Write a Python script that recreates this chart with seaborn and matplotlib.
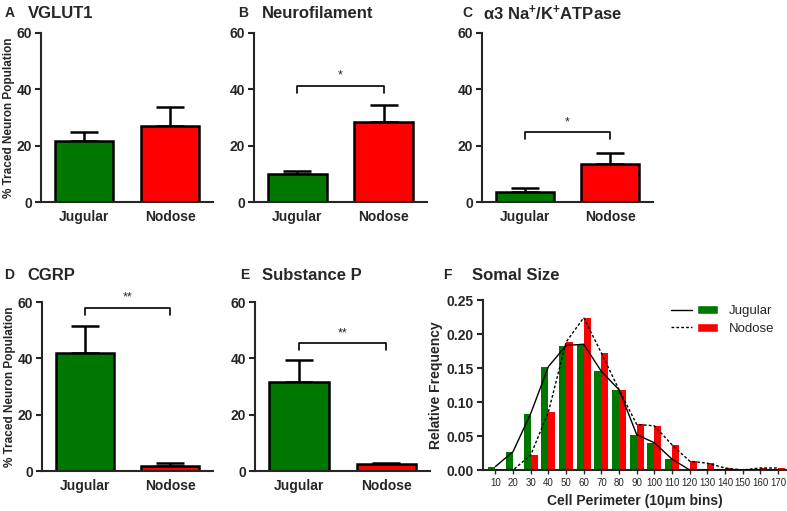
import numpy as np
import pandas as pd
import seaborn as sns
import matplotlib.pyplot as plt
from matplotlib.lines import Line2D
from matplotlib.patches import Patch
from matplotlib.legend_handler import HandlerTuple

sns.set_style("ticks")
plt.rcParams["font.family"] = ["Liberation Sans", "DejaVu Sans"]
plt.rcParams["mathtext.fontset"] = "custom"
plt.rcParams["mathtext.rm"] = "Liberation Sans:bold"
plt.rcParams["mathtext.it"] = "Liberation Sans:bold"
plt.rcParams["mathtext.bf"] = "Liberation Sans:bold"

GREEN = "#007800"
RED = "#ff0000"

# --- data ---
groups = ["Jugular", "Nodose"]

vglut1_mean = [21.8, 27.0]
vglut1_sem = [3.2, 6.8]
nf_mean = [9.8, 28.5]
nf_sem = [1.3, 6.0]
atpase_mean = [3.4, 13.5]
atpase_sem = [1.4, 3.8]
cgrp_mean = [42.0, 1.8]
cgrp_sem = [9.5, 1.1]
subp_mean = [31.7, 2.4]
subp_sem = [7.7, 0.6]

# significance brackets: height and stars (None = no bracket)
sig_height = [None, 41.2, 24.7, 57.9, 45.3]
sig_label = [None, "*", "*", "**", "**"]

bins = ["10", "20", "30", "40", "50", "60", "70", "80", "90", "100",
        "110", "120", "130", "140", "150", "160", "170"]
jugular_freq = [0.005, 0.027, 0.083, 0.152, 0.183, 0.185, 0.145, 0.118, 0.052,
                0.040, 0.016, 0.0, 0.0, 0.0, 0.0, 0.0, 0.0]
nodose_freq = [0.0, 0.0, 0.022, 0.085, 0.188, 0.224, 0.172, 0.118, 0.067,
               0.065, 0.037, 0.013, 0.010, 0.003, 0.0, 0.003, 0.003]

W, H = 787, 511
fig = plt.figure(figsize=(W / 100, H / 100), dpi=100)


def px_axes(left, right, top, bottom):
    return fig.add_axes([left / W, 1 - bottom / H, (right - left) / W, (bottom - top) / H])


def panel_title(x_letter, x_title, y, letter, title):
    fig.text(x_letter / W, 1 - y / H, letter, fontsize=10, fontweight="bold", va="center")
    fig.text(x_title / W, 1 - y / H, title, fontsize=12, fontweight="bold", va="center")


def bar_panel(ax, mean, sem, sig_y, sig_txt, ylabel):
    sns.barplot(x=groups, y=mean, hue=groups, palette=[GREEN, RED], legend=False,
                saturation=1, width=0.68, edgecolor="black", linewidth=1.8, ax=ax)
    ax.errorbar(range(len(groups)), mean, yerr=[np.zeros(len(mean)), sem], fmt="none",
                ecolor="black", elinewidth=1.8, capsize=10, capthick=1.8, zorder=0.5)
    if sig_y is not None:
        ax.plot([0, 0, 1, 1], [sig_y - 2.4, sig_y, sig_y, sig_y - 2.4], color="black",
                lw=1.2, clip_on=False)
        ax.text(0.5, sig_y + 1.5, sig_txt, ha="center", va="bottom", fontsize=9)
    ax.set_xlim(-0.5, 1.5)
    ax.set_ylim(0, 60)
    ax.set_yticks([0, 20, 40, 60])
    ax.tick_params(axis="x", length=0, labelsize=10, pad=6)
    ax.tick_params(axis="y", length=4, width=1.5, labelsize=10, pad=2.5)
    for lab in ax.get_xticklabels() + ax.get_yticklabels():
        lab.set_fontweight("bold")
    ax.set_xlabel("")
    if ylabel:
        ax.set_ylabel("% Traced Neuron Population", fontsize=8.5, fontweight="bold",
                      labelpad=1)
    else:
        ax.set_ylabel("")
    sns.despine(ax=ax)
    for s in ["left", "bottom"]:
        ax.spines[s].set_linewidth(1.5)


# --- top row ---
axA = px_axes(41, 213, 33, 202)
bar_panel(axA, vglut1_mean, vglut1_sem, sig_height[0], sig_label[0], True)
panel_title(5, 28, 13, "A", "VGLUT1")

axB = px_axes(254, 427, 33, 202)
bar_panel(axB, nf_mean, nf_sem, sig_height[1], sig_label[1], False)
panel_title(238, 262, 13, "B", "Neurofilament")

axC = px_axes(482, 653, 33, 202)
bar_panel(axC, atpase_mean, atpase_sem, sig_height[2], sig_label[2], False)
panel_title(462, 483, 13, "C", "α3 Na$^{+}$/K$^{+}$ATPase")

# --- bottom row ---
axD = px_axes(42, 213, 302, 471)
bar_panel(axD, cgrp_mean, cgrp_sem, sig_height[3], sig_label[3], True)
panel_title(4, 27, 275, "D", "CGRP")

axE = px_axes(255, 430, 302, 471)
bar_panel(axE, subp_mean, subp_sem, sig_height[4], sig_label[4], False)
panel_title(240, 262, 275, "E", "Substance P")

# --- F: somal size histogram ---
axF = px_axes(483, 786, 300, 470)
df = pd.DataFrame({
    "bin": bins * 2,
    "group": ["Jugular"] * len(bins) + ["Nodose"] * len(bins),
    "freq": jugular_freq + nodose_freq,
})
sns.barplot(data=df, x="bin", y="freq", hue="group", order=bins,
            palette={"Jugular": GREEN, "Nodose": RED}, saturation=1,
            legend=False, linewidth=0, ax=axF)
idx = np.arange(len(bins))
axF.plot(idx, jugular_freq, color="black", lw=1.0, zorder=5)
axF.plot(idx, nodose_freq, color="black", lw=1.0, ls=(0, (2, 1.5)), zorder=5)
axF.set_xlim(-0.7, 16.45)
axF.set_ylim(0, 0.25)
axF.set_yticks(np.arange(0, 0.26, 0.05))
axF.set_yticklabels([f"{v:.2f}" for v in np.arange(0, 0.26, 0.05)])
axF.tick_params(axis="y", length=4, width=1.5, labelsize=10, pad=2.5)
axF.tick_params(axis="x", length=3, width=1.0, labelsize=7, pad=3)
for lab in axF.get_yticklabels():
    lab.set_fontweight("bold")
axF.set_xlabel("Cell Perimeter (10μm bins)", fontsize=10, fontweight="bold")
axF.set_ylabel("Relative Frequency", fontsize=10, fontweight="bold", labelpad=3)
sns.despine(ax=axF)
for s in ["left", "bottom"]:
    axF.spines[s].set_linewidth(1.5)
panel_title(443, 472, 275, "F", "Somal Size")

handles = [
    (Line2D([], [], color="black", lw=1.0), Patch(facecolor=GREEN)),
    (Line2D([], [], color="black", lw=1.0, ls=(0, (2, 1.5))), Patch(facecolor=RED)),
]
axF.legend(handles, ["Jugular", "Nodose"],
           handler_map={tuple: HandlerTuple(ndivide=None, pad=0.4)},
           frameon=False, loc="upper right", fontsize=9.5, handlelength=3.6,
           bbox_to_anchor=(1.0, 1.04), labelspacing=0.4)

fig.savefig("out.png", dpi=100)
